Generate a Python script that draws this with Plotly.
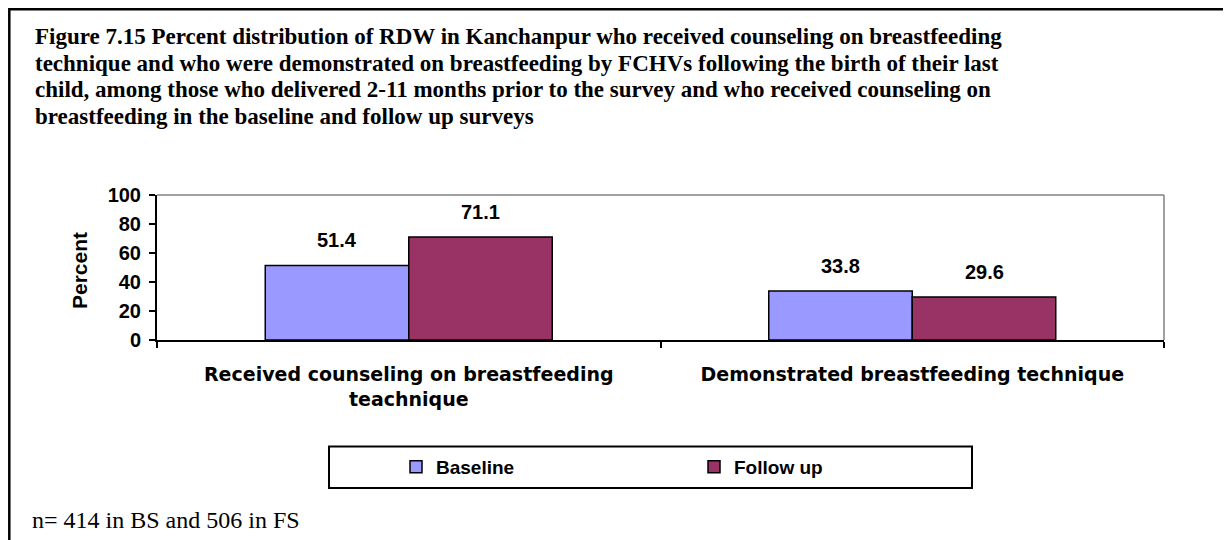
import plotly.graph_objects as go

categories = ["Received counseling on breastfeeding<br>teachnique",
              "Demonstrated breastfeeding technique"]
series_names = ["Baseline", "Follow up"]
baseline = [51.4, 33.8]
follow_up = [71.1, 29.6]
colors = ["#9999FF", "#993366"]
y_ticks = [0, 20, 40, 60, 80, 100]

title_lines = [
    "Figure 7.15 Percent distribution of RDW in Kanchanpur who received counseling on breastfeeding",
    "technique and who were demonstrated on breastfeeding by FCHVs following the birth of their last",
    "child, among those who delivered 2-11 months prior to the survey and who received counseling on",
    "breastfeeding in the baseline and follow up surveys",
]
footnote = "n= 414 in BS and 506 in FS"

OFF = 8  # browser body margin
W, H = 1231 - OFF, 540 - OFF
L, R, T, B = 157 - OFF, 1164 - OFF, 195 - OFF, 340 - OFF
pw, ph = R - L, B - T


def px_x(x):
    return (x - OFF - L) / pw


def px_y(y):
    return (B - (y - OFF)) / ph


fig = go.Figure()
for name, vals, col in zip(series_names, [baseline, follow_up], colors):
    fig.add_trace(go.Bar(
        x=categories, y=vals, name=name,
        marker=dict(color=col, line=dict(color="black", width=1.5)),
    ))

annotations = []
offsets = [-72, 72]
for vals, off in zip([baseline, follow_up], offsets):
    for c, v in zip(categories, vals):
        annotations.append(dict(
            x=c, y=v, xref="x", yref="y", text=f"{v:.1f}", showarrow=False,
            xshift=off, yshift=12, yanchor="bottom",
            font=dict(family="Arial, Liberation Sans", size=20, color="black", weight="bold"),
        ))

for i, line in enumerate(title_lines):
    annotations.append(dict(
        x=px_x(33), y=px_y(36.5 + 26.5 * i), xref="paper", yref="paper", text=line,
        showarrow=False, xanchor="left", yanchor="middle", align="left",
        font=dict(family="Liberation Serif, Times New Roman", size=23, color="black", weight="bold"),
    ))
annotations.append(dict(
    x=px_x(30), y=px_y(520), xref="paper", yref="paper", text=footnote,
    showarrow=False, xanchor="left", yanchor="middle", align="left",
    font=dict(family="Liberation Serif, Times New Roman", size=24, color="black"),
))
annotations.append(dict(
    x=px_x(79), y=px_y(271), xref="paper", yref="paper", text="Percent",
    showarrow=False, textangle=-90, xanchor="center", yanchor="middle",
    font=dict(family="Arial, Liberation Sans", size=21, color="black", weight="bold"),
))

shapes = [
    # outer frame (only its top and left edges fall inside the picture)
    dict(type="rect", xref="paper", yref="paper",
         x0=px_x(9.3), x1=px_x(1300), y0=px_y(9.3), y1=px_y(620),
         line=dict(color="black", width=2.5), layer="above"),
    dict(type="line", xref="paper", yref="paper", x0=0, x1=1, y0=1, y1=1,
         line=dict(color="#808080", width=1.5), layer="below"),
    dict(type="line", xref="paper", yref="paper", x0=1, x1=1, y0=0, y1=1,
         line=dict(color="#808080", width=1.5), layer="below"),
    dict(type="rect", xref="paper", yref="paper",
         x0=px_x(329), x1=px_x(972), y0=px_y(446.5), y1=px_y(488),
         line=dict(color="black", width=2), layer="above"),
]

fig.update_layout(
    width=W, height=H,
    margin=dict(l=L, r=W - R, t=T, b=H - B, pad=0),
    paper_bgcolor="white", plot_bgcolor="white",
    barmode="group", bargap=0.43, bargroupgap=0,
    showlegend=True,
    legend=dict(orientation="h", x=px_x(396), y=px_y(467), xanchor="left", yanchor="middle",
                entrywidth=253, entrywidthmode="pixels", bgcolor="rgba(0,0,0,0)",
                font=dict(family="Arial, Liberation Sans", size=19, color="black", weight="bold"),
                itemclick=False),
    annotations=annotations,
    shapes=shapes,
    xaxis=dict(showline=True, linecolor="black", linewidth=2, ticks="outside",
               tickson="boundaries", ticklen=6, tickcolor="black", tickwidth=1.5,
               ticklabelstandoff=16, showgrid=False,
               tickfont=dict(family="DejaVu Sans", size=19, color="black", weight="bold")),
    yaxis=dict(range=[0, 100], tickvals=y_ticks, showline=True, linecolor="black", linewidth=2,
               ticks="outside", ticklen=6, tickcolor="black", tickwidth=1.5, showgrid=False,
               zeroline=False, ticklabelstandoff=4,
               tickfont=dict(family="Arial, Liberation Sans", size=20, color="black", weight="bold")),
)

fig.write_html("out.html")
